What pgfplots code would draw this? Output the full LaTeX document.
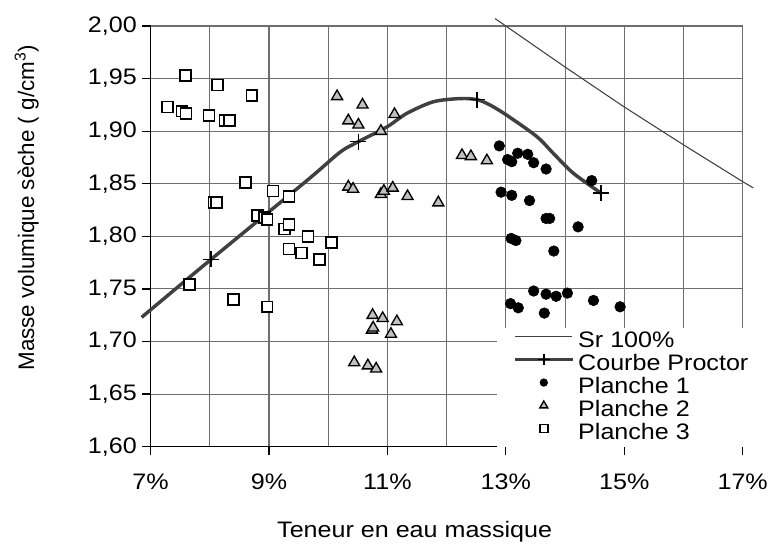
\documentclass[border=0pt]{standalone}
\usepackage{pgfplots}
\pgfplotsset{compat=1.18}
\usepackage{fontspec}
\setmainfont{Liberation Sans}[FakeStretch=1.12]
\newfontfamily\ylabfont{Liberation Sans}
\definecolor{gridgray}{RGB}{110,110,110}
\definecolor{proctor}{RGB}{64,64,64}
\definecolor{tri}{RGB}{192,192,192}

\begin{document}
\fontsize{16.8}{20}\selectfont
\begin{tikzpicture}
\begin{axis}[
  scale only axis, width=444pt, height=315.4pt,
  xmin=7, xmax=17, ymin=1.6, ymax=2.0,
  clip=false,
  axis x line*=bottom, axis y line*=left,
  axis line style={black, line width=1pt},
  xtick={7,9,11,13,15,17},
  xticklabels={7\%,9\%,11\%,13\%,15\%,17\%},
  minor xtick={8,10,12,14,16},
  ytick={1.6,1.65,1.7,1.75,1.8,1.85,1.9,1.95,2.0},
  yticklabels={{1,60},{1,65},{1,70},{1,75},{1,80},{1,85},{1,90},{1,95},{2,00}},
  xticklabel style={yshift=-8pt},
  yticklabel style={xshift=2pt},
  xmajorgrids, xminorgrids, ymajorgrids,
  grid style={gridgray, line width=0.8pt},
  minor grid style={gridgray, line width=0.8pt},
  tick align=outside, major tick length=6.5pt, minor tick length=0pt,
  tick style={black, line width=0.9pt},
  xlabel={Teneur en eau massique},
  ylabel={\ylabfont Masse volumique sèche ( g/cm\textsuperscript{3})},
  x label style={at={(axis description cs:0.446,-0.216)}, anchor=base},
  y label style={at={(axis description cs:-0.209,0.568)}, anchor=center},
  legend style={at={(0.5853,0.2818)}, anchor=north west, fill=white, draw=none,
    inner xsep=12pt, inner ysep=1.5pt, row sep=0pt, cells={anchor=west},
    nodes={inner xsep=3pt, inner ysep=0pt, text height=12.5pt, text depth=4.75pt}},
  legend image code/.code={\draw[mark repeat=2,mark phase=2,#1,every mark/.append style={scale=0.72}] plot coordinates {(0pt,4pt) (21.5pt,4pt) (43pt,4pt)};},
]
\addplot[black!75, line width=0.8pt] coordinates {
  (12.82,2.007) (13.0,2.000) (14.0,1.961) (15.0,1.923) (16.0,1.887) (17.0,1.852) (17.18,1.846)};
\addlegendentry{Sr 100\%}
\addplot[proctor, line width=2.6pt, smooth, tension=0.5, mark=+, mark indices={2,5,10,16},
  mark options={black, line width=1.1pt, mark size=6pt, solid}] coordinates {
  (6.85,1.723) (8.02,1.778) (9.64,1.853) (10.20,1.880) (10.51,1.890) (10.99,1.904)
  (11.33,1.917) (11.78,1.928) (12.23,1.931) (12.51,1.930) (12.73,1.925) (13.02,1.915)
  (13.52,1.895) (13.80,1.879) (14.14,1.860) (14.61,1.841)};
\addlegendentry{Courbe Proctor}
\addplot[only marks, mark=*, mark size=4pt, black] coordinates {
  (12.89,1.886) (13.03,1.873) (13.10,1.871) (13.20,1.879) (13.37,1.878) (13.47,1.870)
  (13.68,1.864) (14.45,1.853) (12.92,1.842) (13.10,1.839) (13.40,1.834) (13.68,1.817)
  (13.74,1.817) (14.22,1.809) (13.09,1.798) (13.17,1.796) (13.81,1.786) (13.47,1.748)
  (13.68,1.745) (13.85,1.743) (14.04,1.746) (14.48,1.739) (14.93,1.733) (13.08,1.736)
  (13.21,1.732) (13.65,1.727)};
\addlegendentry{Planche 1}
\addplot[only marks, mark=triangle*, mark size=4.8pt, mark options={fill=tri, draw=black, line width=1pt}] coordinates {
  (10.15,1.933) (10.58,1.925) (10.34,1.910) (10.51,1.906) (10.89,1.900) (11.12,1.916)
  (10.34,1.847) (10.42,1.845) (10.89,1.840) (10.94,1.843) (11.09,1.846) (11.34,1.838)
  (11.86,1.832) (12.26,1.877) (12.41,1.876) (12.68,1.872) (10.75,1.725) (10.92,1.722)
  (11.16,1.719) (10.74,1.711) (10.76,1.713) (11.06,1.707) (10.44,1.680) (10.67,1.677)
  (10.81,1.674)};
\addlegendentry{Planche 2}
\addplot[only marks, mark=square*, mark size=4.1pt, mark options={fill=white, draw=black, line width=1.2pt}] coordinates {
  (7.59,1.953) (8.13,1.944) (8.71,1.934) (7.29,1.923) (7.53,1.919) (7.60,1.917)
  (7.99,1.915) (8.26,1.910) (8.33,1.910) (8.60,1.851) (9.07,1.843) (9.34,1.838)
  (8.07,1.832) (8.11,1.832) (8.81,1.820) (8.92,1.818) (8.97,1.816) (9.26,1.807)
  (9.34,1.811) (9.66,1.800) (10.06,1.794) (9.34,1.788) (9.55,1.784) (9.85,1.778)
  (7.66,1.754) (8.40,1.740) (8.97,1.733)};
\addlegendentry{Planche 3}
\end{axis}
\pgfresetboundingbox
\useasboundingbox ([shift={(-112.875pt,-73.875pt)}]current axis.south west) rectangle ([shift={(18.975pt,19.5pt)}]current axis.north east);
\end{tikzpicture}
\end{document}
